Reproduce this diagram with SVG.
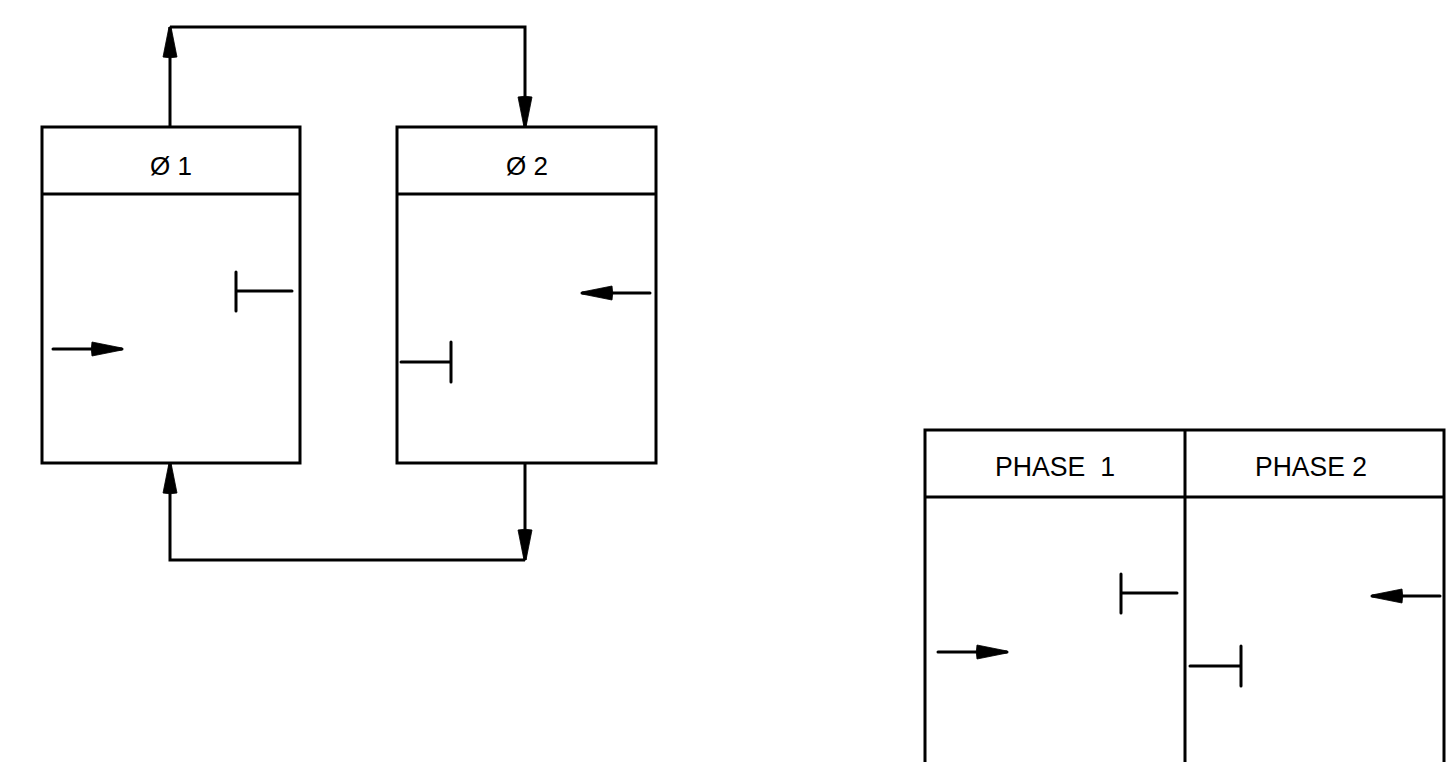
<svg xmlns="http://www.w3.org/2000/svg" width="1453" height="762" viewBox="0 0 1453 762">
<style>
.ln{fill:none;stroke:#000;stroke-width:3;stroke-linecap:butt;stroke-linejoin:miter}
.sym{fill:none;stroke:#000;stroke-width:3;stroke-linecap:round}
.lbl{font-family:"Liberation Sans",Arial,sans-serif;font-size:26px;fill:#000;text-anchor:middle}
.ph{font-family:"Liberation Sans",Arial,sans-serif;font-size:27px;fill:#000}
.arr{marker-end:url(#ah)}
</style>
<defs>
<marker id="ah" viewBox="-2 -8 33 16" refX="30" refY="0" markerWidth="33" markerHeight="16" markerUnits="userSpaceOnUse" orient="auto">
<path d="M0,-7 Q-1.5,0 0,7 L30,1 L30,-1 Z" fill="#000" stroke="#000" stroke-width="0.8" stroke-linejoin="round"/>
</marker>
</defs>
<rect width="1453" height="762" fill="#fff"/>
<g id="phase1">
<rect class="ln" x="42" y="127" width="258" height="336"/>
<line class="ln" x1="42" y1="194" x2="300" y2="194"/>
<text class="lbl" x="171" y="175">Ø 1</text>
<path class="sym" d="M236,272 V311 M236,291 H292"/>
<path class="sym arr" d="M53,349 H122"/>
</g>
<g id="phase2">
<rect class="ln" x="397" y="127" width="259" height="336"/>
<line class="ln" x1="397" y1="194" x2="656" y2="194"/>
<text class="lbl" x="527" y="175">Ø 2</text>
<path class="sym" d="M401,362 H451 M451,342 V382"/>
<path class="sym arr" d="M650,293 H582"/>
</g>
<g id="connectors">
<path class="ln arr" d="M170,127 V27"/>
<path class="ln arr" d="M170,27 H525 V127"/>
<path class="ln arr" d="M525,463 V560"/>
<path class="ln arr" d="M525,560 H170 V463"/>
</g>
<g id="table">
<path class="ln" d="M925,770 V430 H1444 V770 M1185,430 V770 M925,497 H1444"/>
<text class="ph" x="995" y="476" textLength="120" lengthAdjust="spacingAndGlyphs" xml:space="preserve">PHASE  1</text>
<text class="ph" x="1255" y="476" textLength="112" lengthAdjust="spacingAndGlyphs">PHASE 2</text>
<path class="sym" d="M1121,574 V613 M1121,593 H1177"/>
<path class="sym arr" d="M938,652 H1007"/>
<path class="sym" d="M1190,666 H1241 M1241,646 V686"/>
<path class="sym arr" d="M1440,596 H1372"/>
</g>
</svg>
